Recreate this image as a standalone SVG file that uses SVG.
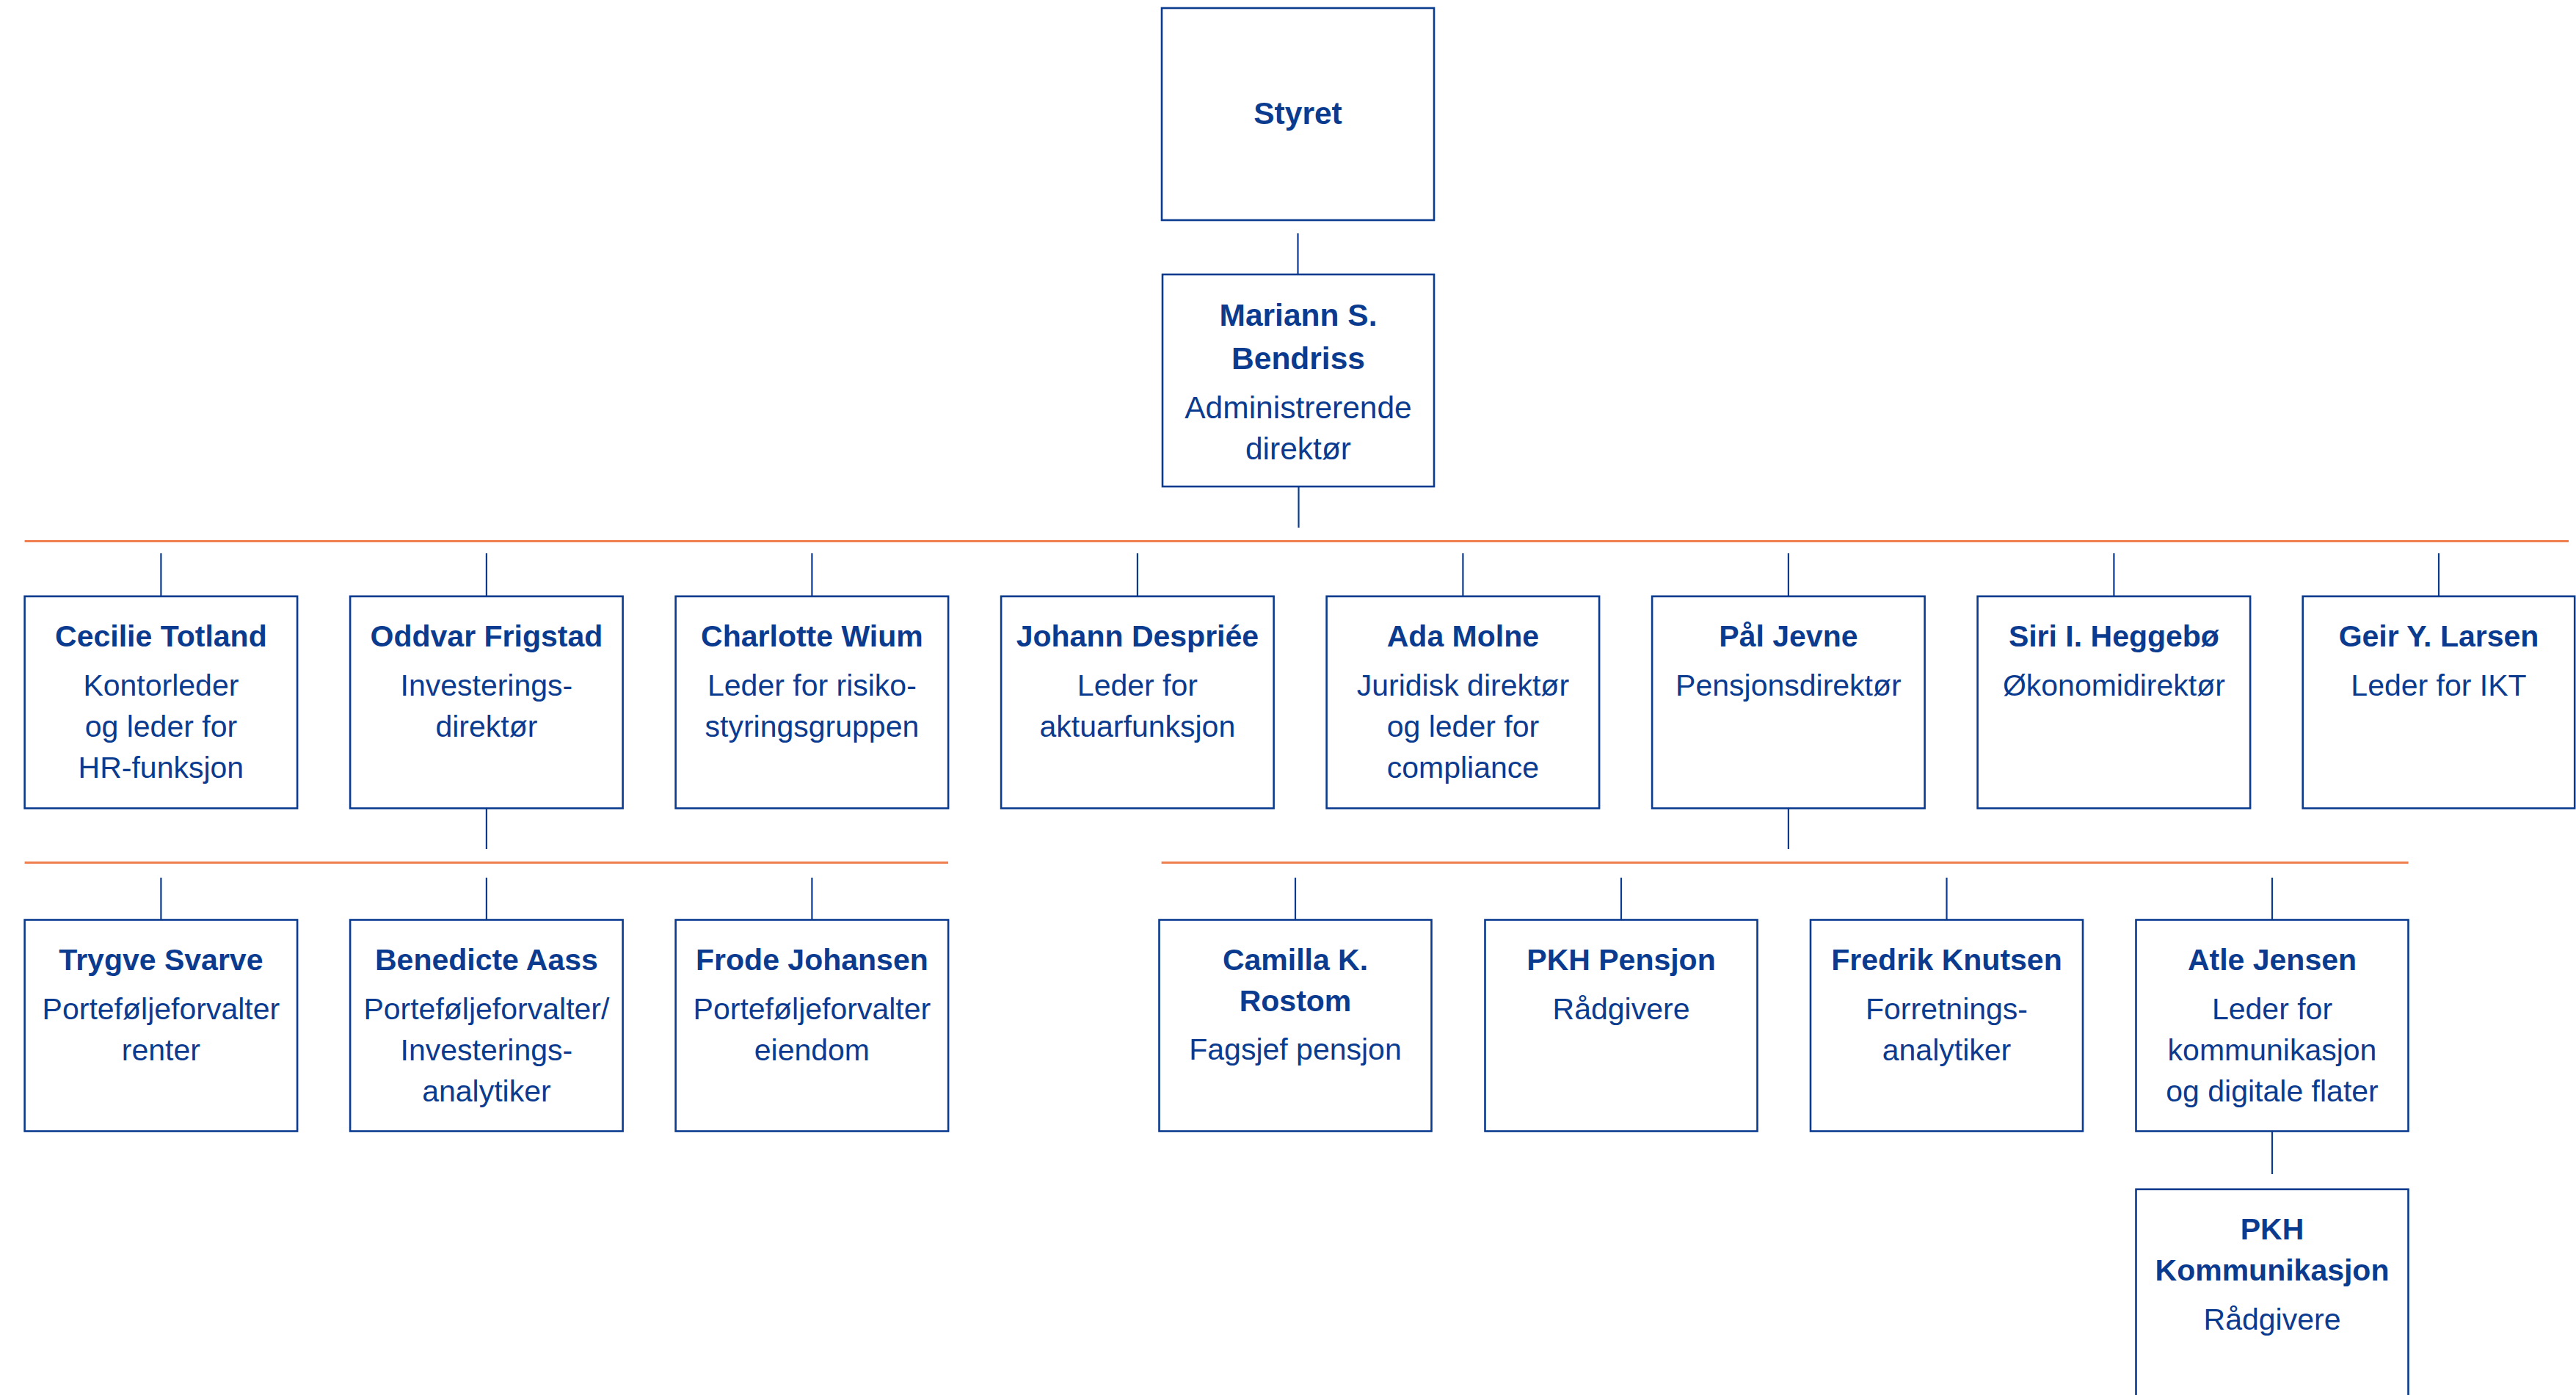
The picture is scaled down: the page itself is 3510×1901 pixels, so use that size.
<svg xmlns="http://www.w3.org/2000/svg" width="3510" height="1901" viewBox="0 0 3510 1901">
<style>
.box{fill:#ffffff;stroke:#0b3b8f;stroke-width:2.6}
.con{stroke:#0b3b8f;stroke-width:2.2;fill:none}
.bar{stroke:#ef7f4e;stroke-width:2.8;fill:none}
text{font-family:"Liberation Sans",Arial,sans-serif;font-size:41px;fill:#0b3b8f;text-anchor:middle}
.b{font-weight:bold}
.lg{font-size:42.5px}
</style>
<rect width="3510" height="1901" fill="#ffffff"/>
<g id="connectors">
<line class="con" x1="1768.5" y1="318" x2="1768.5" y2="374"/>
<line class="con" x1="1769.5" y1="663" x2="1769.5" y2="719"/>
<line class="bar" x1="33.6" y1="737.5" x2="3500" y2="737.5"/>
<line class="con" x1="219.4" y1="754" x2="219.4" y2="812.7"/>
<line class="con" x1="662.9" y1="754" x2="662.9" y2="812.7"/>
<line class="con" x1="1106.4" y1="754" x2="1106.4" y2="812.7"/>
<line class="con" x1="1549.9" y1="754" x2="1549.9" y2="812.7"/>
<line class="con" x1="1993.4" y1="754" x2="1993.4" y2="812.7"/>
<line class="con" x1="2436.9" y1="754" x2="2436.9" y2="812.7"/>
<line class="con" x1="2880.4" y1="754" x2="2880.4" y2="812.7"/>
<line class="con" x1="3323" y1="754" x2="3323" y2="812.7"/>
<line class="con" x1="662.9" y1="1101.5" x2="662.9" y2="1157"/>
<line class="bar" x1="33.6" y1="1175.5" x2="1292" y2="1175.5"/>
<line class="con" x1="219.4" y1="1196" x2="219.4" y2="1253.5"/>
<line class="con" x1="662.9" y1="1196" x2="662.9" y2="1253.5"/>
<line class="con" x1="1106.4" y1="1196" x2="1106.4" y2="1253.5"/>
<line class="con" x1="2436.9" y1="1101.5" x2="2436.9" y2="1157"/>
<line class="bar" x1="1582.6" y1="1175.5" x2="3281.6" y2="1175.5"/>
<line class="con" x1="1765" y1="1196" x2="1765" y2="1253.5"/>
<line class="con" x1="2209" y1="1196" x2="2209" y2="1253.5"/>
<line class="con" x1="2652.5" y1="1196" x2="2652.5" y2="1253.5"/>
<line class="con" x1="3096" y1="1196" x2="3096" y2="1253.5"/>
<line class="con" x1="3096" y1="1541.5" x2="3096" y2="1600"/>
</g>
<g id="styret">
<rect class="box" x="1583" y="11" width="371" height="289"/>
<text class="b lg" x="1768.5" y="169">Styret</text>
</g>
<g id="mariann">
<rect class="box" x="1584" y="374" width="370" height="289"/>
<text class="b lg" x="1769" y="444">Mariann S.</text>
<text class="b lg" x="1769" y="503">Bendriss</text>
<text class="lg" x="1769" y="570">Administrerende</text>
<text class="lg" x="1769" y="626">direktør</text>
</g>
<g id="cecilie">
<rect class="box" x="33.6" y="812.7" width="371.5" height="288.8"/>
<text class="b" x="219.4" y="881">Cecilie Totland</text>
<text x="219.4" y="948">Kontorleder</text>
<text x="219.4" y="1004">og leder for</text>
<text x="219.4" y="1060">HR-funksjon</text>
</g>
<g id="oddvar">
<rect class="box" x="477.1" y="812.7" width="371.5" height="288.8"/>
<text class="b" x="662.9" y="881">Oddvar Frigstad</text>
<text x="662.9" y="948">Investerings-</text>
<text x="662.9" y="1004">direktør</text>
</g>
<g id="charlotte">
<rect class="box" x="920.6" y="812.7" width="371.5" height="288.8"/>
<text class="b" x="1106.4" y="881">Charlotte Wium</text>
<text x="1106.4" y="948">Leder for risiko-</text>
<text x="1106.4" y="1004">styringsgruppen</text>
</g>
<g id="johann">
<rect class="box" x="1364.1" y="812.7" width="371.5" height="288.8"/>
<text class="b" x="1549.9" y="881">Johann Despriée</text>
<text x="1549.9" y="948">Leder for</text>
<text x="1549.9" y="1004">aktuarfunksjon</text>
</g>
<g id="ada">
<rect class="box" x="1807.6" y="812.7" width="371.5" height="288.8"/>
<text class="b" x="1993.4" y="881">Ada Molne</text>
<text x="1993.4" y="948">Juridisk direktør</text>
<text x="1993.4" y="1004">og leder for</text>
<text x="1993.4" y="1060">compliance</text>
</g>
<g id="paal">
<rect class="box" x="2251.1" y="812.7" width="371.5" height="288.8"/>
<text class="b" x="2436.9" y="881">Pål Jevne</text>
<text x="2436.9" y="948">Pensjonsdirektør</text>
</g>
<g id="siri">
<rect class="box" x="2694.6" y="812.7" width="371.5" height="288.8"/>
<text class="b" x="2880.4" y="881">Siri I. Heggebø</text>
<text x="2880.4" y="948">Økonomidirektør</text>
</g>
<g id="geir">
<rect class="box" x="3137.7" y="812.7" width="370.5" height="288.8"/>
<text class="b" x="3323" y="881">Geir Y. Larsen</text>
<text x="3323" y="948">Leder for IKT</text>
</g>
<g id="trygve">
<rect class="box" x="33.6" y="1253.5" width="371.5" height="288"/>
<text class="b" x="219.4" y="1321.5">Trygve Svarve</text>
<text x="219.4" y="1388.5">Porteføljeforvalter</text>
<text x="219.4" y="1444.5">renter</text>
</g>
<g id="benedicte">
<rect class="box" x="477.1" y="1253.5" width="371.5" height="288"/>
<text class="b" x="662.9" y="1321.5">Benedicte Aass</text>
<text x="662.9" y="1388.5">Porteføljeforvalter/</text>
<text x="662.9" y="1444.5">Investerings-</text>
<text x="662.9" y="1500.5">analytiker</text>
</g>
<g id="frode">
<rect class="box" x="920.6" y="1253.5" width="371.5" height="288"/>
<text class="b" x="1106.4" y="1321.5">Frode Johansen</text>
<text x="1106.4" y="1388.5">Porteføljeforvalter</text>
<text x="1106.4" y="1444.5">eiendom</text>
</g>
<g id="camilla">
<rect class="box" x="1579.5" y="1253.5" width="371" height="288"/>
<text class="b" x="1765" y="1321.5">Camilla K.</text>
<text class="b" x="1765" y="1377.5">Rostom</text>
<text x="1765" y="1444">Fagsjef pensjon</text>
</g>
<g id="pkh-pensjon">
<rect class="box" x="2023.5" y="1253.5" width="371" height="288"/>
<text class="b" x="2209" y="1321.5">PKH Pensjon</text>
<text x="2209" y="1388.5">Rådgivere</text>
</g>
<g id="fredrik">
<rect class="box" x="2467" y="1253.5" width="371" height="288"/>
<text class="b" x="2652.5" y="1321.5">Fredrik Knutsen</text>
<text x="2652.5" y="1388.5">Forretnings-</text>
<text x="2652.5" y="1444.5">analytiker</text>
</g>
<g id="atle">
<rect class="box" x="2910.5" y="1253.5" width="371" height="288"/>
<text class="b" x="3096" y="1321.5">Atle Jensen</text>
<text x="3096" y="1388.5">Leder for</text>
<text x="3096" y="1444.5">kommunikasjon</text>
<text x="3096" y="1500.5">og digitale flater</text>
</g>
<g id="pkh-kommunikasjon">
<rect class="box" x="2910.5" y="1620.7" width="371" height="300"/>
<text class="b" x="3096" y="1689">PKH</text>
<text class="b" x="3096" y="1745">Kommunikasjon</text>
<text x="3096" y="1812">Rådgivere</text>
</g>
</svg>
